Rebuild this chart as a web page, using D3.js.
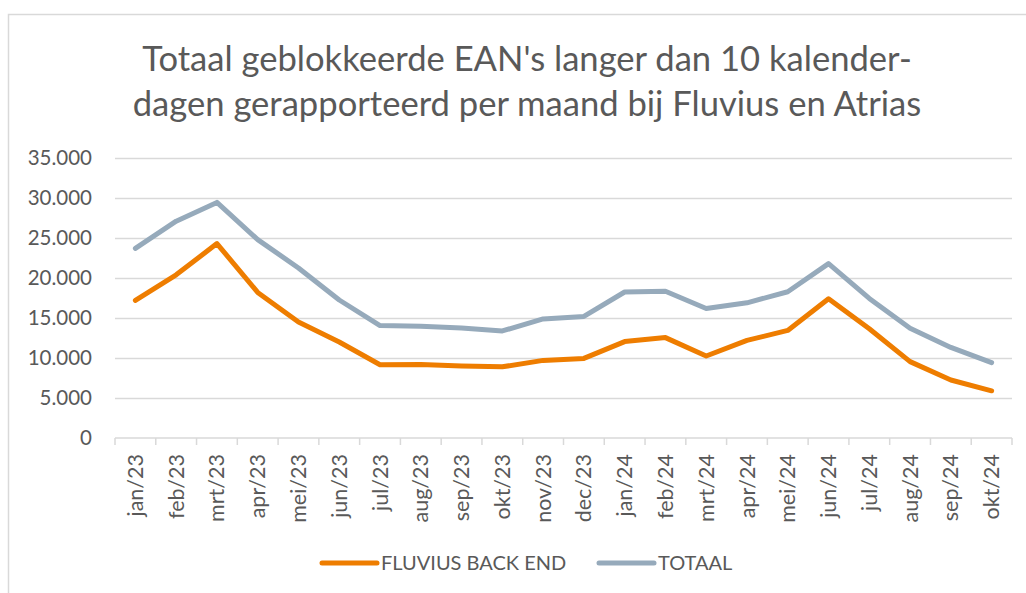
<!DOCTYPE html>
<html>
<head>
<meta charset="utf-8">
<script src="https://cdn.jsdelivr.net/npm/d3@7"></script>
<style>
  html, body { margin: 0; padding: 0; background: #fff; }
  svg { display: block; font-family: Lato, "Open Sans", sans-serif; }
</style>
</head>
<body>
<svg id="chart" width="1026" height="593"></svg>
<script>
/* Totaal geblokkeerde EAN's – lijngrafiek */

const months = [
  "jan/23", "feb/23", "mrt/23", "apr/23", "mei/23", "jun/23", "jul/23", "aug/23",
  "sep/23", "okt/23", "nov/23", "dec/23", "jan/24", "feb/24", "mrt/24", "apr/24",
  "mei/24", "jun/24", "jul/24", "aug/24", "sep/24", "okt/24",
];
const fluvius = [
  17200, 20400, 24300, 18200, 14500, 12000, 9150, 9200, 9000, 8900, 9700,
  9950, 12050, 12550, 10250, 12200, 13450, 17400, 13650, 9550, 7250, 5900,
];
const totaal = [
  23700, 27100, 29450, 24800, 21250, 17250, 14050, 13980, 13750, 13380, 14880,
  15200, 18250, 18350, 16180, 16900, 18280, 21800, 17450, 13720, 11320, 9420,
];
const yTicks = [0, 5000, 10000, 15000, 20000, 25000, 30000, 35000];
const titleLines = [
  "Totaal geblokkeerde EAN's langer dan 10 kalender-",
  "dagen gerapporteerd per maand bij Fluvius en Atrias",
];
const series = [
  { name: "FLUVIUS BACK END", values: fluvius, color: "#ee7d00" },
  { name: "TOTAAL", values: totaal, color: "#96aabb" },
];

const TEXT = "#595959";
const GRID = "#d9d9d9";
const margin = { top: 158, right: 14, bottom: 155, left: 115 };
const W = 1026, H = 593;

const svg = d3.select("#chart");

// kader
svg.append("rect")
  .attr("x", 8.5).attr("y", 14.5)
  .attr("width", 1040).attr("height", 620)
  .attr("fill", "none").attr("stroke", GRID).attr("stroke-width", 1.5);

// titel
svg.append("g").selectAll("text")
  .data(titleLines)
  .join("text")
  .attr("x", 527)
  .attr("y", (d, i) => 71 + i * 45)
  .attr("text-anchor", "middle")
  .attr("fill", TEXT)
  .style("font-size", "34.6px")
  .text(d => d);

const x = d3.scaleBand().domain(months).range([margin.left, W - margin.right]);
const y = d3.scaleLinear().domain([0, 35000]).range([H - margin.bottom, margin.top]);

const nl = d3.formatLocale({ decimal: ",", thousands: ".", grouping: [3], currency: ["€", ""] });
const fmt = nl.format(",d");

// y-as met rasterlijnen
const yAxis = svg.append("g")
  .attr("transform", `translate(${margin.left},0)`)
  .call(d3.axisLeft(y).tickValues(yTicks).tickFormat(fmt)
    .tickSize(-(W - margin.right - margin.left)).tickPadding(23));
yAxis.select(".domain").remove();
yAxis.selectAll(".tick line").attr("stroke", GRID).attr("stroke-width", 1.5);
yAxis.selectAll(".tick").filter(d => d === 0).select("line").remove();
yAxis.selectAll(".tick text")
  .attr("fill", TEXT)
  .style("font-family", "Lato, sans-serif")
  .style("font-size", "20.5px");

// x-as
const y0 = y(0);
const xAxis = svg.append("g");
xAxis.append("line")
  .attr("x1", margin.left).attr("x2", W - margin.right)
  .attr("y1", y0).attr("y2", y0)
  .attr("stroke", GRID).attr("stroke-width", 1.5);
xAxis.selectAll("line.tick")
  .data(months.map(m => x(m)).concat([x.range()[1]]))
  .join("line")
  .attr("class", "tick")
  .attr("x1", d => d).attr("x2", d => d)
  .attr("y1", y0).attr("y2", y0 + 7)
  .attr("stroke", GRID).attr("stroke-width", 1.5);
xAxis.selectAll("text")
  .data(months)
  .join("text")
  .attr("transform", d => `translate(${x(d) + x.bandwidth() / 2},${y0 + 16}) rotate(-90)`)
  .attr("text-anchor", "end")
  .attr("dy", "0.35em")
  .attr("fill", TEXT)
  .style("font-size", "21.5px")
  .text(d => d);

// lijnen
const line = d3.line()
  .x((d, i) => x(months[i]) + x.bandwidth() / 2)
  .y(d => y(d));

svg.append("g").selectAll("path")
  .data(series.slice().reverse())
  .join("path")
  .attr("d", d => line(d.values))
  .attr("fill", "none")
  .attr("stroke", d => d.color)
  .attr("stroke-width", 5)
  .attr("stroke-linejoin", "round")
  .attr("stroke-linecap", "round");

// legenda
const legendPos = [322, 599];
const legend = svg.append("g").selectAll("g")
  .data(series)
  .join("g")
  .attr("transform", (d, i) => `translate(${legendPos[i]},563)`);
legend.append("line")
  .attr("x1", 0).attr("x2", 55)
  .attr("stroke", d => d.color)
  .attr("stroke-width", 5)
  .attr("stroke-linecap", "round");
legend.append("text")
  .attr("x", 59)
  .attr("dy", "0.35em")
  .attr("fill", TEXT)
  .style("font-size", "20px")
  .text(d => d.name);
</script>
</body>
</html>
